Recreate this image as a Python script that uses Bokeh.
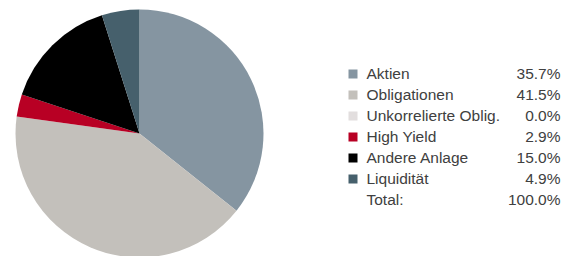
import math
from bokeh.plotting import figure
from bokeh.models import ColumnDataSource
from bokeh.core.properties import value
from bokeh.embed import file_html
from bokeh.resources import INLINE

categories = ["Aktien", "Obligationen", "Unkorrelierte Oblig.", "High Yield", "Andere Anlage", "Liquidität"]
shares = [35.7, 41.5, 0.0, 2.9, 15.0, 4.9]
total_label = "Total:"

colors = ["#8595a1", "#c3c0bb", "#e2dede", "#b80024", "#000000", "#46606c"]

W, H = 576, 256
p = figure(width=W, height=H, output_backend="svg", toolbar_location=None,
           x_range=(0, W), y_range=(0, H),
           min_border=0, outline_line_color=None)
p.axis.visible = False
p.grid.visible = False
p.background_fill_color = "white"

def sy(y):
    return H - y

# pie (zero-size slices are skipped, they would render as a full circle)
total = sum(shares)
starts, ends, wcols = [], [], []
acc = 0.0
for v, c in zip(shares, colors):
    s = math.pi / 2 - 2 * math.pi * acc / total
    acc += v
    e = math.pi / 2 - 2 * math.pi * acc / total
    if v > 0:
        starts.append(s)
        ends.append(e)
        wcols.append(c)
src = ColumnDataSource(dict(start=starts, end=ends, color=wcols))
p.wedge(x=139, y=sy(133), radius=124, radius_units="screen",
        start_angle="start", end_angle="end", direction="clock",
        fill_color="color", line_color=None, source=src)

# legend
row0, step = 73.5, 21
ys = [sy(row0 + i * step) for i in range(len(categories))]
p.rect(x=[352.5] * len(categories), y=ys, width=9, height=9,
       width_units="screen", height_units="screen",
       fill_color=colors, line_color=None)
lab_y = ys + [sy(row0 + len(categories) * step)]
labels = categories + [total_label]
vals = [f"{v:.1f}%" for v in shares] + [f"{total:.1f}%"]
p.text(x=[366] * len(labels), y=lab_y, text=labels, y_offset=-1,
       text_font=value("Liberation Sans"), text_font_size="15.5px",
       text_color="#404040", text_baseline="middle", text_align="left")
p.text(x=[560] * len(vals), y=lab_y, text=vals, y_offset=-1,
       text_font=value("Liberation Sans"), text_font_size="15.5px",
       text_color="#404040", text_baseline="middle", text_align="right")

open("out.html", "w").write(file_html(p, INLINE))
